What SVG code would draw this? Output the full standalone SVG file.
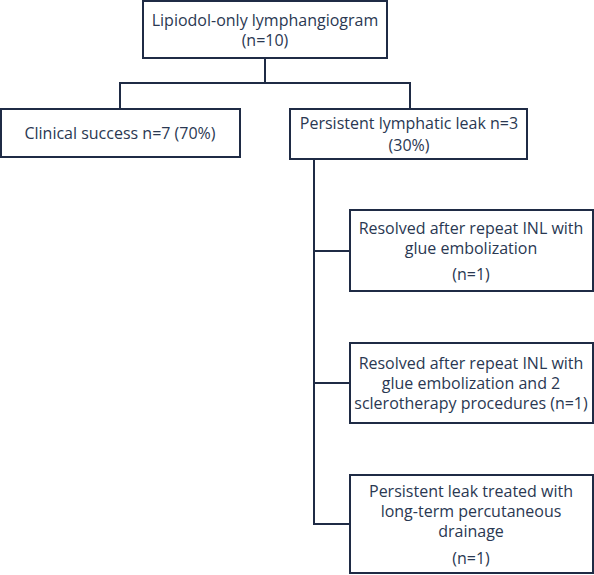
<svg xmlns="http://www.w3.org/2000/svg" width="594" height="575" viewBox="0 0 594 575">
<style>
.box{fill:#ffffff;stroke:#1f2b45;stroke-width:2}
.conn{fill:none;stroke:#1f2b45;stroke-width:2}
text{font-family:"Open Sans","Noto Sans",sans-serif;font-size:16px;fill:#2a3852;text-anchor:middle}
</style>
<rect width="594" height="575" fill="#ffffff"/>
<g id="connectors">
<polyline class="conn" points="265,58 265,83"/>
<polyline class="conn" points="120,109 120,83 410,83 410,109"/>
<polyline class="conn" points="314,159 314,524 350,524"/>
<line class="conn" x1="314" y1="251" x2="350" y2="251"/>
<line class="conn" x1="314" y1="383" x2="350" y2="383"/>
</g>
<g id="root">
<rect class="box" x="143" y="1" width="244" height="57"/>
<text x="265" y="26">Lipiodol-only lymphangiogram</text>
<text x="265" y="46">(n=10)</text>
</g>
<g id="success">
<rect class="box" x="1" y="109" width="239" height="48"/>
<text x="120" y="139">Clinical success n=7 (70%)</text>
</g>
<g id="persistent">
<rect class="box" x="290" y="109" width="237" height="50"/>
<text x="409" y="129">Persistent lymphatic leak n=3</text>
<text x="409" y="151">(30%)</text>
</g>
<g id="resolved1">
<rect class="box" x="350" y="210" width="243" height="81"/>
<text x="471" y="234">Resolved after repeat INL with</text>
<text x="471" y="254">glue embolization</text>
<text x="471" y="280">(n=1)</text>
</g>
<g id="resolved2">
<rect class="box" x="350" y="343" width="243" height="80"/>
<text x="471" y="369">Resolved after repeat INL with</text>
<text x="471" y="389">glue embolization and 2</text>
<text x="471" y="409">sclerotherapy procedures (n=1)</text>
</g>
<g id="drainage">
<rect class="box" x="350" y="475" width="243" height="98"/>
<text x="471" y="497">Persistent leak treated with</text>
<text x="471" y="517">long-term percutaneous</text>
<text x="471" y="537">drainage</text>
<text x="471" y="564">(n=1)</text>
</g>
</svg>
